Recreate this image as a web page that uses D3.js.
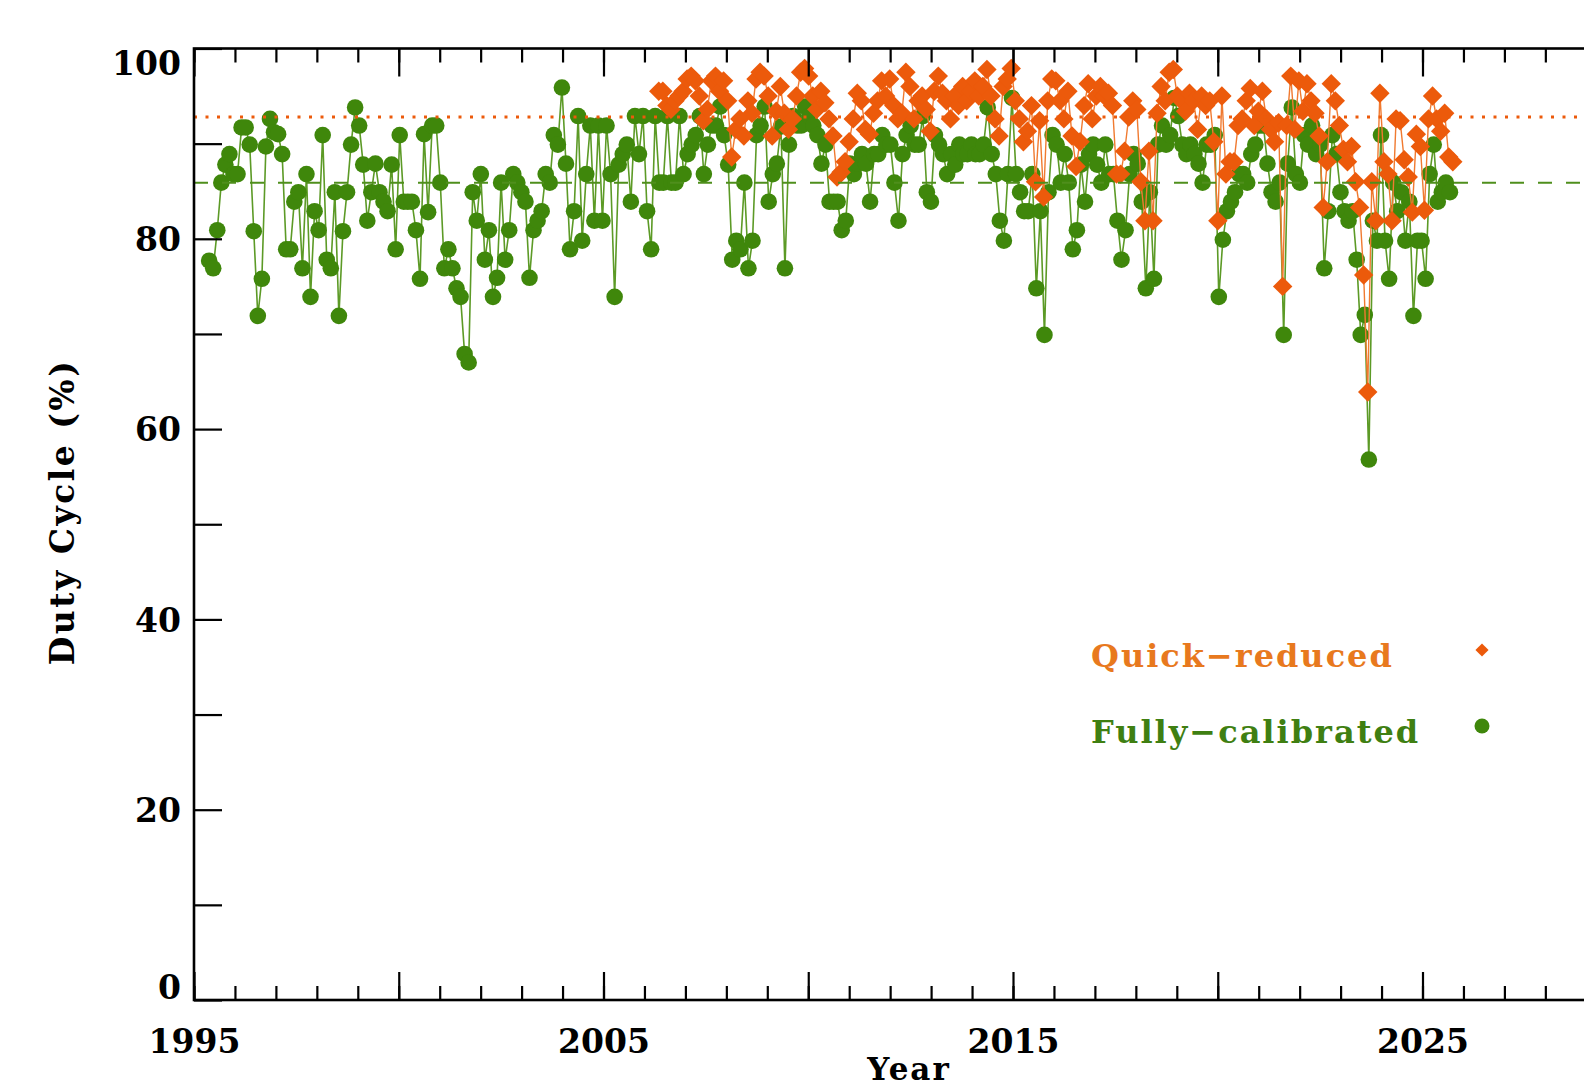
<!DOCTYPE html>
<html>
<head>
<meta charset="utf-8">
<title>Duty Cycle</title>
<script src="https://d3js.org/d3.v7.min.js"></script>
<style>
  html, body { margin: 0; padding: 0; background: #fff; overflow: hidden; }
  svg text { font-family: "DejaVu Serif", serif; font-weight: bold; }
</style>
</head>
<body>
<div id="stage"></div>
<script>
// monthly duty cycle values (%)
var greenStart = 1995.37, greenEnd = 2025.67;
var greenValues = [
  77.7, 76.9, 80.9, 85.9, 87.8, 88.9, 86.8, 86.8, 91.7, 91.7, 89.9, 80.8, 71.9, 75.8, 89.7, 92.6,
  91.2, 91.0, 88.9, 78.9, 78.9, 83.9, 84.9, 76.9, 86.8, 73.9, 82.9, 80.9, 90.9, 77.8, 76.9, 84.9,
  71.9, 80.8, 84.9, 89.9, 93.8, 91.9, 87.8, 81.9, 84.9, 87.9, 84.9, 83.9, 82.9, 87.8, 78.9, 90.9,
  83.9, 83.9, 83.9, 80.9, 75.8, 91.0, 82.8, 91.9, 91.9, 85.9, 76.9, 78.9, 76.9, 74.8, 73.9, 67.9,
  67.0, 84.9, 81.9, 86.8, 77.8, 80.9, 73.9, 75.9, 85.9, 77.8, 80.9, 86.8, 85.9, 84.9, 83.9, 75.9,
  80.9, 81.9, 82.9, 86.8, 85.9, 90.9, 89.9, 95.9, 87.9, 78.9, 82.9, 92.9, 79.8, 86.8, 91.9, 81.9,
  91.9, 81.9, 91.9, 86.8, 73.9, 87.8, 88.9, 89.9, 83.9, 92.9, 88.9, 92.9, 82.9, 78.9, 92.9, 85.9,
  85.9,
  92.9, 85.9, 85.9, 92.9, 86.8, 88.9, 89.9, 90.9, 92.9, 86.8, 89.9, 91.9, 91.9, 93.9, 90.9, 87.8,
  77.8, 79.8, 78.9, 85.9, 76.9, 79.8, 90.9, 91.9, 93.9, 83.9, 86.8, 87.9, 91.8, 76.9, 89.9, 92.9,
  91.9, 91.9, 93.9, 92.9, 91.9, 90.9, 87.9, 89.9, 83.9, 83.9, 83.9, 80.9, 81.9, 87.9, 86.8, 87.9,
  88.9, 87.9, 83.9, 88.9, 88.9, 90.9, 89.9, 89.9, 85.9, 81.9, 88.9, 90.9, 91.9, 89.9, 89.9, 92.9,
  84.9, 83.9, 90.9, 89.9, 88.9, 86.8, 88.9, 87.8, 89.9, 88.9, 88.9, 89.9, 88.9, 88.9, 89.9, 93.8,
  88.9, 86.8, 81.9, 79.8, 86.8, 94.8, 86.8, 84.9, 82.9, 82.9, 86.8, 74.8, 82.9, 69.9, 84.9, 90.9,
  89.9, 85.9, 88.9, 85.9, 78.9, 80.9, 87.8, 83.9, 88.9, 89.9, 87.8, 85.9, 89.9, 86.8, 86.8, 81.9,
  77.8, 80.9, 86.8, 88.9, 87.9, 83.9, 74.8, 84.9, 75.8, 89.9, 91.9, 89.9, 90.9, 94.8, 92.9, 89.9,
  88.9, 89.9, 88.9, 87.9, 85.9, 89.9, 89.9, 90.9, 73.9, 79.9, 82.9, 83.9, 84.9, 86.8, 86.8, 85.9,
  88.9, 89.9, 91.9, 91.9, 87.9, 84.9, 83.9, 85.9, 69.9, 87.9, 93.8, 86.8, 85.9, 90.9, 89.9, 91.9,
  88.9, 89.9, 76.9, 82.9, 90.9, 88.9, 84.9, 82.9, 81.9, 82.9, 77.8, 69.9, 72.0, 56.8, 81.9, 79.8,
  90.9, 79.8, 75.8, 85.9, 82.9, 84.9, 79.8, 83.9, 71.9, 79.8, 79.8, 75.8, 86.8, 89.9, 83.9, 84.9,
  85.9, 84.9
];

var orangeStart = 2006.35, orangeEnd = 2025.74;
var orangeValues = [
  95.5, 95.5, 94.0, 93.6, 94.5, 95.0, 95.5, 96.8, 97.1, 96.6, 95.0, 92.4, 93.6, 96.6, 97.1, 95.5,
  96.6, 94.5, 88.6, 91.5, 92.6, 90.8, 94.5, 93.2, 96.8, 97.5, 97.1, 95.0, 90.8, 93.4, 96.0, 93.2,
  91.5, 92.6, 95.0, 97.5, 97.9, 97.1, 95.0, 93.6, 95.5, 94.3, 92.6, 90.8, 86.5, 87.0, 88.1, 90.2,
  92.6, 95.3, 94.5, 91.5, 91.0, 93.2, 94.5, 96.6, 95.0, 96.8, 94.0, 92.6, 93.2, 97.5, 96.0, 92.6,
  94.5, 95.0, 93.6, 91.3, 95.5, 97.1, 95.3, 94.5, 92.6, 95.0, 94.0, 96.0, 94.5, 95.5, 96.6, 95.0,
  96.0, 97.8, 95.0, 92.6, 90.8, 96.0, 96.8, 97.9, 94.5, 92.6, 90.2, 91.3, 94.0, 86.0, 92.4, 84.4,
  94.5, 96.8, 96.6, 94.5, 92.6, 95.5, 90.8, 87.6, 90.2, 94.0, 96.3, 92.6, 95.0, 96.0, 95.0, 95.3,
  94.0, 86.8, 86.8, 89.2, 92.8, 94.5, 93.6, 86.0, 81.9, 89.2, 81.9, 93.2, 96.0, 94.5, 97.5, 97.8,
  95.0, 94.5, 93.4, 95.3, 94.5, 91.5, 95.0, 94.0, 94.5, 90.2, 81.9, 95.0, 86.8, 88.1, 88.1, 91.9,
  92.6, 94.5, 95.8, 91.9, 93.4, 95.5, 92.6, 91.5, 90.2, 92.2, 75.0, 91.9, 97.1, 91.5, 96.6, 93.4,
  96.3, 94.5, 93.2, 90.8, 83.3, 88.1, 96.3, 94.5, 91.9, 89.4, 88.1, 89.7, 86.0, 83.3, 76.2, 63.9,
  86.0, 81.9, 95.3, 88.1, 86.8, 81.9, 92.6, 92.4, 88.3, 86.5, 82.8, 91.0, 89.7, 83.0, 92.6, 95.0,
  92.6, 91.3, 93.2, 88.6, 88.1
];

var meanQuick = 92.8;
var meanFull = 85.9;

var yTicks = d3.range(0, 101, 10);
var yLabels = [0, 20, 40, 60, 80, 100];
var xMinor = d3.range(1995, 2031, 1);
var xMajor = d3.range(1995, 2031, 5);
var xLabels = [1995, 2005, 2015, 2025];

var seriesNames = ["Quick\u2212reduced", "Fully\u2212calibrated"];

var orange = "#ec5a0b", orangeLine = "#f07a30", orangeText = "#e8791e";
var green = "#3f870b", greenLine = "#5c9a26", greenText = "#3f7f12";

function toPoints(values, start, end) {
  var step = (end - start) / (values.length - 1);
  return values.map(function(v, i) { return { year: start + i * step, value: v }; });
}

var W = 1584, H = 1091;
var svg = d3.select("#stage").append("svg")
  .attr("width", W).attr("height", H)
  .style("display", "block");

var x = d3.scaleLinear().domain([1995, 2030]).range([194, 194 + 35 * 40.95]);
var y = d3.scaleLinear().domain([0, 100]).range([1000, 48.5]);

var green_pts = toPoints(greenValues, greenStart, greenEnd);
var orange_pts = toPoints(orangeValues, orangeStart, orangeEnd);

var line = d3.line().x(function(d) { return x(d.year); }).y(function(d) { return y(d.value); });

// fully calibrated (green)
svg.append("path").datum(green_pts)
  .attr("d", line).attr("fill", "none")
  .attr("stroke", greenLine).attr("stroke-width", 1.6);
svg.append("g").selectAll("circle").data(green_pts).enter().append("circle")
  .attr("cx", function(d) { return x(d.year); })
  .attr("cy", function(d) { return y(d.value); })
  .attr("r", 8.3).attr("fill", green);

// quick reduced (orange)
var diamond = d3.symbol().type(d3.symbolDiamond2).size(240);
svg.append("path").datum(orange_pts)
  .attr("d", line).attr("fill", "none")
  .attr("stroke", orangeLine).attr("stroke-width", 1.4);
svg.append("g").selectAll("path").data(orange_pts).enter().append("path")
  .attr("d", diamond)
  .attr("transform", function(d) { return "translate(" + x(d.year) + "," + y(d.value) + ")"; })
  .attr("fill", orange);

// mean lines
svg.append("line")
  .attr("x1", x(1995)).attr("x2", x(2030))
  .attr("y1", y(meanQuick)).attr("y2", y(meanQuick))
  .attr("stroke", orange).attr("stroke-width", 3.2)
  .attr("stroke-dasharray", "3,8.5");
svg.append("line")
  .attr("x1", x(1995)).attr("x2", x(2030))
  .attr("y1", y(meanFull)).attr("y2", y(meanFull))
  .attr("stroke", "#4f8f1c").attr("stroke-width", 2)
  .attr("stroke-dasharray", "14,14");

// axes
var axisStyle = function(g) {
  g.select(".domain").remove();
  g.selectAll(".tick line").attr("stroke", "#000").attr("stroke-width", 2.2);
  g.selectAll("text").attr("fill", "#000").style("font-size", "33px");
};

svg.append("g").attr("transform", "translate(" + x(1995) + ",0)")
  .call(d3.axisLeft(y).tickValues(yTicks).tickSize(-28).tickPadding(13)
    .tickFormat(function(d) { return yLabels.indexOf(d) >= 0 ? d : ""; }))
  .call(axisStyle)
  .selectAll("text")
  .attr("dy", function(d) { return d === 100 ? "0.8em" : d === 0 ? "-0.05em" : "0.36em"; });

svg.append("g").attr("transform", "translate(0," + y(0) + ")")
  .call(d3.axisBottom(x).tickValues(xMinor).tickSize(-14).tickFormat(""))
  .call(axisStyle);
svg.append("g").attr("transform", "translate(0," + y(0) + ")")
  .call(d3.axisBottom(x).tickValues(xMajor).tickSize(-28).tickPadding(30)
    .tickFormat(function(d) { return xLabels.indexOf(d) >= 0 ? d : ""; }))
  .call(axisStyle);

svg.append("g").attr("transform", "translate(0," + y(100) + ")")
  .call(d3.axisTop(x).tickValues(xMinor).tickSize(-14).tickFormat(""))
  .call(axisStyle);
svg.append("g").attr("transform", "translate(0," + y(100) + ")")
  .call(d3.axisTop(x).tickValues(xMajor).tickSize(-28).tickFormat(""))
  .call(axisStyle);

// frame
svg.append("rect")
  .attr("x", x(1995)).attr("y", y(100))
  .attr("width", x(2030) - x(1995)).attr("height", y(0) - y(100))
  .attr("fill", "none").attr("stroke", "#000").attr("stroke-width", 2.6);

// axis titles
svg.append("text")
  .attr("transform", "translate(74,512) rotate(-90)")
  .attr("text-anchor", "middle").style("font-size", "33px")
  .style("letter-spacing", "2.5px")
  .text("Duty Cycle (%)");
svg.append("text")
  .attr("x", 909).attr("y", 1080)
  .attr("text-anchor", "middle").style("font-size", "31px")
  .style("letter-spacing", "2px")
  .text("Year");

// legend
var legend = svg.append("g");
legend.append("text").attr("x", 1091).attr("y", 667)
  .style("font-size", "32px").style("letter-spacing", "2px")
  .attr("fill", orangeText).text(seriesNames[0]);
legend.append("text").attr("x", 1091).attr("y", 743)
  .style("font-size", "32px").style("letter-spacing", "2px")
  .attr("fill", greenText).text(seriesNames[1]);
legend.append("path")
  .attr("d", d3.symbol().type(d3.symbolDiamond2).size(110))
  .attr("transform", "translate(1482,650)").attr("fill", orange);
legend.append("circle").attr("cx", 1482).attr("cy", 726).attr("r", 7.5).attr("fill", green);
</script>
</body>
</html>
